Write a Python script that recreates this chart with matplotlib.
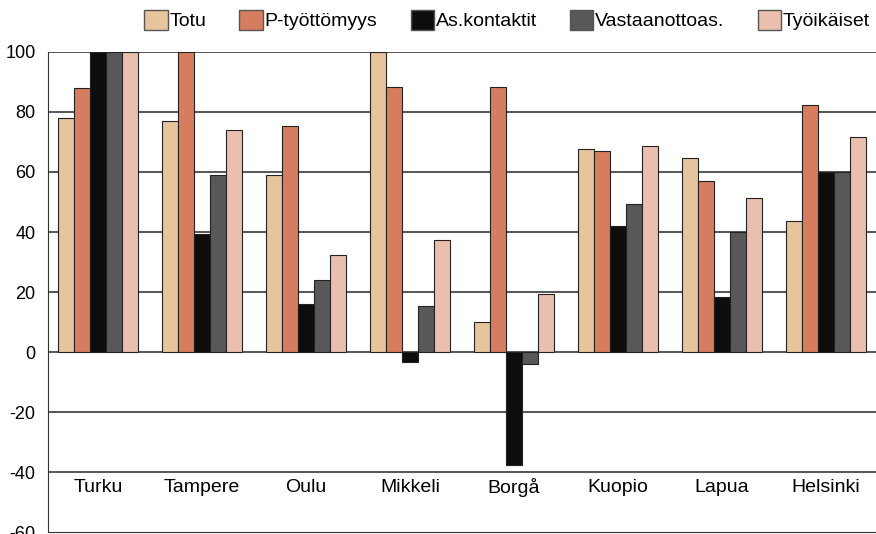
import numpy as np
import matplotlib
matplotlib.use("Agg")
import matplotlib.pyplot as plt
from matplotlib.patches import Patch

plt.rcParams['font.family'] = ['Liberation Sans', 'DejaVu Sans']
plt.rcParams['axes.unicode_minus'] = False

cities = ["Turku", "Tampere", "Oulu", "Mikkeli", "Borgå", "Kuopio", "Lapua", "Helsinki"]
series = ["Totu", "P-työttömyys", "As.kontaktit", "Vastaanottoas.", "Työikäiset"]
colors = ["#E6C49C", "#D77D5F", "#0D0D0D", "#58585A", "#EBBFAD"]

totu = [78, 77, 59, 100, 10, 67.7, 64.7, 43.7]
p_tyott = [88, 100, 75.3, 88.2, 88.2, 67.1, 57.1, 82.2]
as_kont = [100, 39.3, 16, -3.3, -37.4, 41.9, 18.3, 59.9]
vastaan = [100, 59.1, 24, 15.3, -4, 49.2, 39.9, 60]
tyoik = [100, 74, 32.5, 37.2, 19.4, 68.6, 51.2, 71.7]
values = [totu, p_tyott, as_kont, vastaan, tyoik]

fig = plt.figure(figsize=(8.76, 5.34), dpi=100)
ax = fig.add_axes([0.055, 0.003, 0.945, 0.900])

x = np.arange(len(cities))
w = 0.154
for i, (vals, c) in enumerate(zip(values, colors)):
    ax.bar(x + (i - 2) * w, vals, w, color=c, edgecolor="#222222", linewidth=0.8, zorder=3)

ax.set_ylim(-60, 100)
ax.set_xlim(-0.48, 7.48)
ax.set_yticks(np.arange(-60, 101, 20))
for yv in np.arange(-40, 101, 20):
    ax.axhline(yv, color="#555555", linewidth=1.4, zorder=1)
ax.tick_params(axis="y", length=0, pad=9, labelsize=13)
ax.set_xticks([])
for sp in ["top", "right"]:
    ax.spines[sp].set_visible(False)
ax.spines["left"].set_color("#333333")
ax.spines["bottom"].set_color("#333333")

for xi, name in zip(x, cities):
    ax.text(xi, -45, name, ha="center", va="center", fontsize=14)

handles = [Patch(facecolor=c, edgecolor="#555555", linewidth=1) for c in colors]
fig.legend(handles, series, loc="center", bbox_to_anchor=(0.579, 0.9625), ncol=5,
           frameon=False, fontsize=14, handlelength=1.2, handleheight=1.25,
           handletextpad=0.1, columnspacing=1.7, borderpad=0, borderaxespad=0)

fig.savefig("out.png", dpi=100)
